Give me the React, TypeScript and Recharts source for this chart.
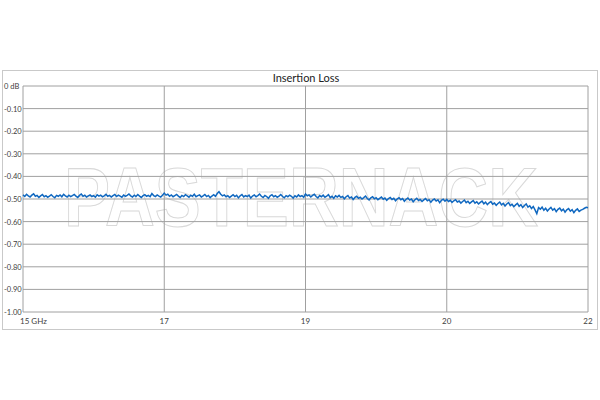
import React from 'react';
import { LineChart, Line, XAxis, YAxis, CartesianGrid } from 'recharts';

const title = 'Insertion Loss';
const watermark = 'PASTERNACK';
const xLabels = ['15 GHz', '17', '19', '20', '22'];
const xTicks = [0, 1, 2, 3, 4];
const yTicks = [0, -0.1, -0.2, -0.3, -0.4, -0.5, -0.6, -0.7, -0.8, -0.9, -1.0];
const yLabels = ['0 dB', '-0.10', '-0.20', '-0.30', '-0.40', '-0.50', '-0.60', '-0.70', '-0.80', '-0.90', '-1.00'];

// 15 -> 17 GHz
const lossA = [
  -0.482, -0.489, -0.479, -0.486, -0.491, -0.483, -0.477, -0.488, -0.484, -0.493,
  -0.486, -0.480, -0.490, -0.485, -0.492, -0.487, -0.481, -0.489, -0.494, -0.484,
  -0.488, -0.482, -0.490, -0.479, -0.486, -0.491, -0.483, -0.489, -0.485, -0.480,
  -0.487, -0.493, -0.484, -0.478, -0.488, -0.483, -0.491, -0.486, -0.482, -0.489,
  -0.485, -0.492, -0.481, -0.487, -0.483, -0.490, -0.486, -0.479, -0.488, -0.484,
  -0.491, -0.485, -0.480, -0.489, -0.483, -0.487, -0.492, -0.482, -0.488, -0.484,
  -0.478, -0.486, -0.491, -0.483, -0.489, -0.480, -0.487, -0.493, -0.485, -0.481,
  -0.488, -0.484, -0.490, -0.476, -0.485, -0.489, -0.482, -0.487, -0.491, -0.483,
];
// 17 -> 19 GHz
const lossB = [
  -0.474, -0.483, -0.479, -0.488, -0.482, -0.490, -0.485, -0.480, -0.487, -0.493,
  -0.484, -0.489, -0.481, -0.486, -0.492, -0.483, -0.488, -0.479, -0.490, -0.485,
  -0.482, -0.491, -0.486, -0.480, -0.489, -0.484, -0.494, -0.487, -0.481, -0.488,
  -0.476, -0.468, -0.479, -0.486, -0.482, -0.490, -0.485, -0.493, -0.487, -0.481,
  -0.489, -0.484, -0.495, -0.486, -0.480, -0.491, -0.485, -0.489, -0.483, -0.496,
  -0.487, -0.482, -0.490, -0.485, -0.478, -0.488, -0.493, -0.484, -0.489, -0.497,
  -0.486, -0.481, -0.490, -0.485, -0.492, -0.487, -0.480, -0.489, -0.494, -0.485,
  -0.490, -0.483, -0.488, -0.496, -0.486, -0.491, -0.482, -0.489, -0.485, -0.492,
];
// 19 -> 20 GHz
const lossC = [
  -0.478, -0.486, -0.482, -0.491, -0.484, -0.479, -0.489, -0.495, -0.485, -0.490,
  -0.483, -0.492, -0.487, -0.481, -0.494, -0.488, -0.497, -0.486, -0.491, -0.484,
  -0.493, -0.489, -0.499, -0.490, -0.485, -0.496, -0.491, -0.502, -0.493, -0.488,
  -0.497, -0.492, -0.500, -0.494, -0.487, -0.498, -0.504, -0.495, -0.490, -0.499,
  -0.494, -0.503, -0.497, -0.491, -0.501, -0.496, -0.506, -0.498, -0.493, -0.502,
  -0.497, -0.508, -0.499, -0.494, -0.503, -0.498, -0.510, -0.501, -0.496, -0.505,
  -0.500, -0.512, -0.503, -0.497, -0.507, -0.502, -0.511, -0.504, -0.498, -0.508,
  -0.503, -0.514, -0.505, -0.500, -0.509, -0.504, -0.516, -0.506, -0.501, -0.510,
];
// 20 -> 22 GHz
const lossD = [
  -0.502, -0.511, -0.506, -0.515, -0.508, -0.503, -0.513, -0.509, -0.518, -0.511,
  -0.505, -0.516, -0.510, -0.520, -0.513, -0.507, -0.518, -0.512, -0.522, -0.515,
  -0.509, -0.521, -0.514, -0.525, -0.517, -0.511, -0.523, -0.518, -0.528, -0.520,
  -0.514, -0.526, -0.519, -0.531, -0.522, -0.516, -0.529, -0.523, -0.534, -0.526,
  -0.519, -0.532, -0.525, -0.538, -0.529, -0.522, -0.536, -0.530, -0.542, -0.533,
  -0.548, -0.565, -0.538, -0.545, -0.536, -0.550, -0.541, -0.553, -0.544, -0.537,
  -0.549, -0.543, -0.556, -0.546, -0.540, -0.552, -0.545, -0.558, -0.548, -0.542,
  -0.554, -0.547, -0.560, -0.550, -0.544, -0.555, -0.549, -0.546, -0.541, -0.537,
  -0.539,
];

const allLoss = [...lossA, ...lossB, ...lossC, ...lossD];
const data = allLoss.map((v, i) => ({ x: i / lossA.length, loss: v }));

const FONT = 'Lato, "Open Sans", sans-serif';

const YTick = (props: any) => {
  const { y, payload } = props;
  const idx = yTicks.findIndex((t) => Math.abs(t - payload.value) < 1e-6);
  return (
    <text x={4} y={y} dy={3} fontSize={7.5} style={{ fill: '#404040' }} fontFamily={FONT} textAnchor="start">
      {yLabels[idx]}
    </text>
  );
};

const XTick = (props: any) => {
  const { x, y, payload, index } = props;
  const first = index === 0;
  return (
    <text
      x={first ? x - 3 : x}
      y={y}
      dy={4}
      fontSize={8}
      style={{ fill: '#404040' }}
      fontFamily={FONT}
      textAnchor={first ? 'start' : 'middle'}
    >
      {xLabels[payload.value]}
    </text>
  );
};

export default function App() {
  return (
    <div style={{ position: 'absolute', left: 0, top: 0, width: 600, height: 400, background: '#fff' }}>
      <div
        style={{
          position: 'absolute',
          left: 2,
          top: 70,
          width: 594,
          height: 258,
          border: '1px solid #c9c9c9',
        }}
      />
      <svg width={600} height={400} style={{ position: 'absolute', left: 0, top: 0 }}>
        <g transform="translate(301,226) scale(1,1.22)">
          <text
            x={0}
            y={0}
            fontSize={69}
            fontWeight="bold"
            fontFamily='"Liberation Sans", Arial, sans-serif'
            textAnchor="middle"
            fill="none"
            stroke="#d9d9d9"
            strokeWidth={0.9}
          >
            {watermark}
          </text>
        </g>
        <text x={306} y={82} fontSize={11} fontFamily={FONT} fill="#222" textAnchor="middle">
          {title}
        </text>
      </svg>
      <div style={{ position: 'absolute', left: 0, top: 0 }}>
        <LineChart width={600} height={400} data={data} margin={{ top: 86, right: 12, left: 0, bottom: 68 }}>
          <CartesianGrid stroke="#a0a0a0" strokeWidth={1} />
          <XAxis
            type="number"
            dataKey="x"
            domain={[0, 4]}
            ticks={xTicks}
            axisLine={false}
            tickLine={false}
            height={20}
            tick={<XTick />}
            interval={0}
          />
          <YAxis
            type="number"
            domain={[-1, 0]}
            ticks={yTicks}
            axisLine={false}
            tickLine={false}
            width={23}
            tick={<YTick />}
            interval={0}
          />
          <Line
            type="linear"
            dataKey="loss"
            stroke="#1068c0"
            strokeWidth={1.5}
            dot={false}
            isAnimationActive={false}
          />
        </LineChart>
      </div>
    </div>
  );
}
